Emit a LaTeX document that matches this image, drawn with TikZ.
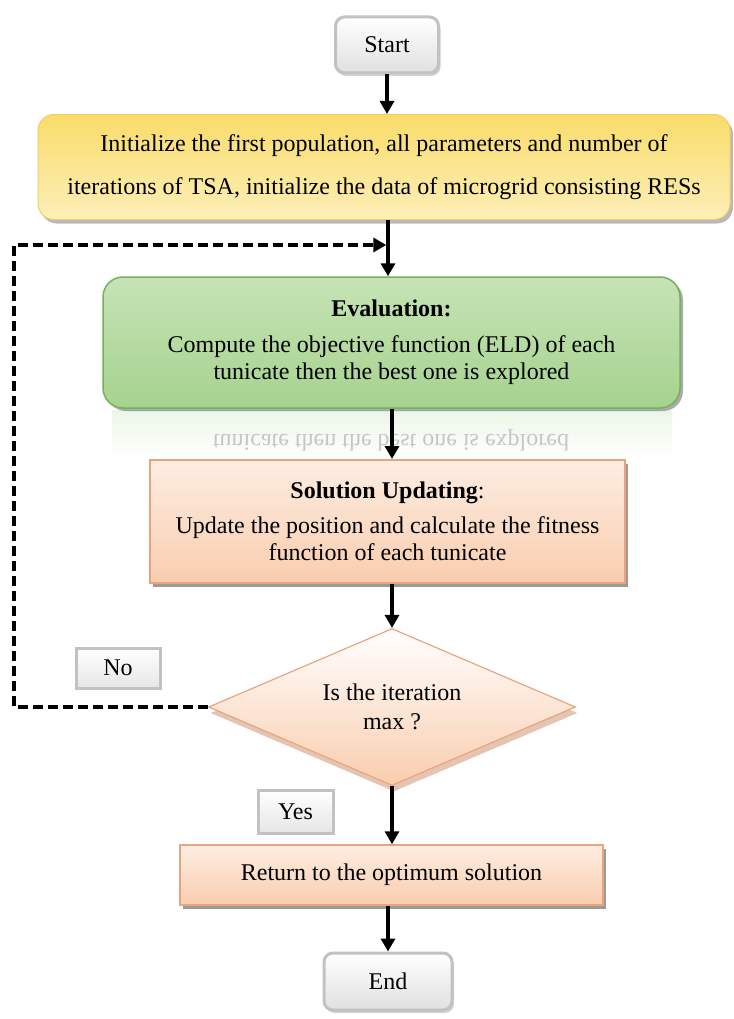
\documentclass[tikz,border=0pt]{standalone}
\usepackage{fontspec}
\setmainfont{Liberation Serif}
\usetikzlibrary{arrows.meta,shapes.geometric,shadows,calc}
\definecolor{yelTop}{HTML}{F9DC6A}
\definecolor{yelMid}{HTML}{FFFBE8}
\definecolor{yelBot}{HTML}{FDEFB8}
\definecolor{grnTop}{HTML}{C6E4B6}
\definecolor{grnBot}{HTML}{A6D28E}
\definecolor{grnEdge}{HTML}{74B05E}
\definecolor{pchEdge}{HTML}{E9A47F}
\definecolor{pchBot}{HTML}{F9CDAE}
\definecolor{pchMid}{HTML}{FDEDE2}
\definecolor{grayEdge}{HTML}{C2C2C2}
\definecolor{grayBot}{HTML}{E0E0E0}
\begin{document}
\begin{tikzpicture}[x=1pt,y=-1pt,
  txt/.style={font=\fontsize{24}{27}\selectfont, align=center, text=black, inner sep=0pt},
  pill/.style={txt, rectangle, rounded corners=9pt, top color=white, bottom color=grayBot,
    draw=grayEdge, line width=3pt,
    drop shadow={shadow xshift=2pt, shadow yshift=-3pt, opacity=0.35, fill=gray}},
  initbox/.style={txt, rectangle, rounded corners=16pt, draw=yelTop!85!brown, line width=1pt,
    top color=yelTop, middle color=yelMid, bottom color=yelBot,
    drop shadow={shadow xshift=3pt, shadow yshift=-4pt, opacity=0.55, fill=gray}},
  evalbox/.style={txt, rectangle, rounded corners=20pt, draw=grnEdge, line width=1.5pt,
    top color=grnTop, bottom color=grnBot,
    drop shadow={shadow xshift=3pt, shadow yshift=-3pt, opacity=0.55, fill=gray!80!black}},
  peachbox/.style={txt, rectangle, draw=pchEdge, line width=1.5pt,
    top color=pchMid, bottom color=pchBot,
    drop shadow={shadow xshift=3pt, shadow yshift=-4pt, opacity=0.6, fill=gray!70!black}},
  decbox/.style={txt, diamond, aspect=2.34, draw=pchEdge, line width=1.2pt,
    top color=white, bottom color=pchBot,
    drop shadow={shadow xshift=2pt, shadow yshift=-6pt, opacity=0.6, fill=pchEdge!80!gray}},
  lblbox/.style={txt, rectangle, top color=white, bottom color=grayBot!80,
    draw=grayEdge, line width=3pt},
  flow/.style={line width=3.4pt, -{Triangle[length=13pt,width=14pt]}},
  loop/.style={line width=3.4pt, dash pattern=on 10pt off 5pt, -{Triangle[length=13pt,width=14pt]}}
]
\useasboundingbox (0,0) rectangle (733,1019);

\node[pill, minimum width=103pt, minimum height=56pt] (start) at (387,45) {Start};

\node[initbox, minimum width=692pt, minimum height=105pt, font=\fontsize{24}{43}\selectfont] (init) at (384,167)
  {Initialize the first population, all parameters and number of\\iterations of TSA, initialize the data of microgrid consisting RESs};

% faint reflection of the evaluation box
\fill[top color=grnTop!35, bottom color=white] (112,410) rectangle (672,458);
\node[txt, text=gray!45, yscale=-1] (refl) at (391,440) {tunicate then the best one is explored};

\node[evalbox, minimum width=577pt, minimum height=131pt] (eval) at (391.5,342.5)
  {\textbf{Evaluation:}\\[9pt]Compute the objective function (ELD) of each\\tunicate then the best one is explored};

\node[peachbox, minimum width=475pt, minimum height=123pt] (sol) at (387.5,521.5)
  {\textbf{Solution Updating}:\\[8pt]Update the position and calculate the fitness\\function of each tunicate};

\node[decbox, minimum width=367pt, minimum height=157pt] (dec) at (392,707)
  {Is the iteration\\[2pt]max ?};

\node[lblbox, minimum width=84pt, minimum height=40pt] (no) at (118,668) {No};
\node[lblbox, minimum width=75pt, minimum height=43pt] (yes) at (295.5,811.5) {Yes};

\node[peachbox, minimum width=423pt, minimum height=60pt] (ret) at (391.5,875) {Return to the optimum solution};

\node[pill, minimum width=128pt, minimum height=57pt] (end) at (388,981.5) {End};

% connectors
\coordinate (join) at (388,245);
\coordinate (lc1) at (14,707);
\coordinate (lc2) at (14,245);
\draw[flow] (start.south) -- (start.south |- init.north);
\draw[line width=3.4pt] (init.south -| join) -- (join);
\draw[flow] (join) -- (join |- eval.north);
\draw[flow] (eval.south -| 392,0) -- (392,459);
\draw[flow] (sol.south -| dec.north) -- (dec.north);
\draw[flow] (dec.south) -- (dec.south |- ret.north);
\draw[flow] (ret.south -| end.north) -- (end.north);
\draw[loop] (dec.west) -- (lc1) -- (lc2) -- ($(join)+(-1.7,0)$);
\end{tikzpicture}
\end{document}
